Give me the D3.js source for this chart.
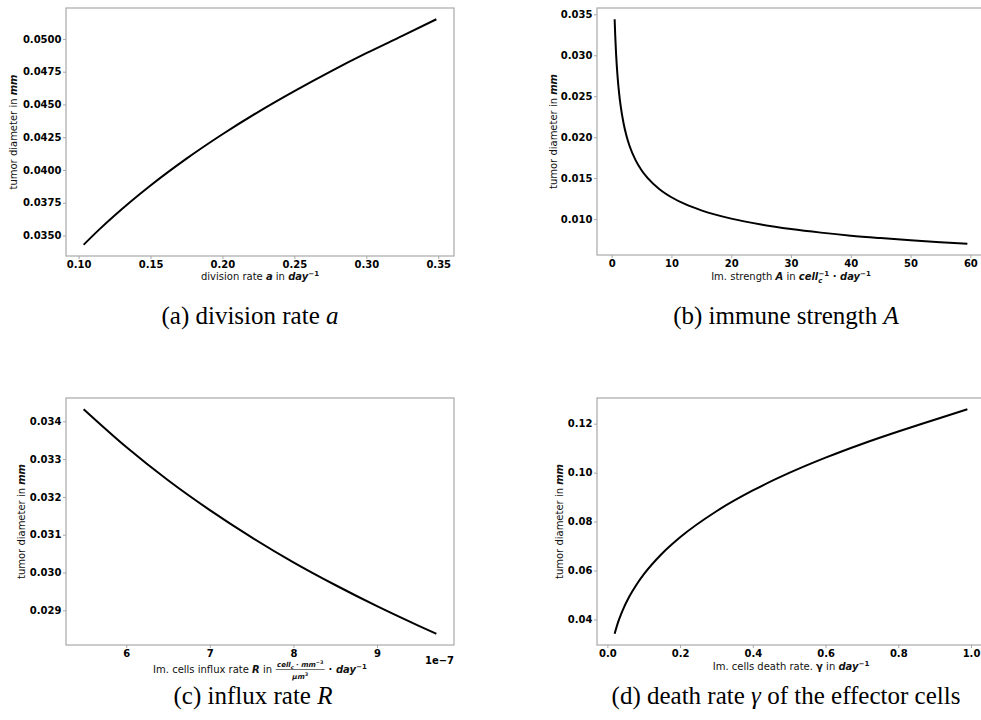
<!DOCTYPE html>
<html><head><meta charset="utf-8">
<script src="https://cdn.jsdelivr.net/npm/d3@7"></script>
<style>body{margin:0;background:#fff}svg{display:block}text{white-space:pre}</style>
</head><body>
<script>
// ---- data ----
const aX=[0.1035,0.115,0.125,0.15,0.175,0.2,0.225,0.25,0.275,0.3,0.325,0.3487];
const aY=[0.0343,0.03553,0.03653,0.03882,0.04087,0.04273,0.04444,0.04602,0.04751,0.04891,0.05023,0.0515];
const aXTicks=[0.10,0.15,0.20,0.25,0.30,0.35];
const aYTicks=[0.0350,0.0375,0.0400,0.0425,0.0450,0.0475,0.0500];

const bX=[0.5,0.6,0.75,1,1.25,1.5,2,2.5,3,4,5,6,8,10,12.5,15,20,25,30,35,40,45,50,55,59.5];
const bY=[0.0344,0.03237,0.03005,0.0273,0.02535,0.02385,0.02167,0.02012,0.01893,0.0172,0.01597,0.01503,0.01365,0.01267,0.01176,0.01107,0.01006,0.00934,0.00879,0.00835,0.00798,0.00768,0.00741,0.00718,0.00699];
const bXTicks=[0,10,20,30,40,50,60];
const bYTicks=[0.010,0.015,0.020,0.025,0.030,0.035];

const cX=[5.49e-7,6e-7,6.5e-7,7e-7,7.5e-7,8e-7,8.5e-7,9e-7,9.5e-7,9.71e-7];
const cY=[0.03432,0.03332,0.03244,0.03165,0.03093,0.03027,0.02967,0.02911,0.02859,0.02838];
const cXTicks=[6e-7,7e-7,8e-7,9e-7];
const cYTicks=[0.029,0.030,0.031,0.032,0.033,0.034];

const dX=[0.02,0.03,0.04,0.06,0.08,0.1,0.15,0.2,0.3,0.4,0.5,0.6,0.7,0.8,0.9,0.99];
const dY=[0.03415,0.03909,0.04303,0.04925,0.05421,0.0584,0.06685,0.07357,0.08422,0.0927,0.09986,0.10611,0.11171,0.1168,0.12160,0.1259];
const dXTicks=[0.0,0.2,0.4,0.6,0.8,1.0];
const dYTicks=[0.04,0.06,0.08,0.10,0.12];

const captions=[
  [{t:"(a) division rate "},{t:"a",i:1}],
  [{t:"(b) immune strength "},{t:"A",i:1}],
  [{t:"(c) influx rate "},{t:"R",i:1}],
  [{t:"(d) death rate "},{t:"γ",i:1},{t:" of the effector cells"}]
];

// ---- layout ----
const W=981,H=720;
const svg=d3.select("body").append("svg").attr("width",W).attr("height",H)
  .style("font-family","'DejaVu Sans'");
svg.append("rect").attr("width",W).attr("height",H).attr("fill","#fff");

const SPINE="#a8a8a8";
const TICKFONT="bold 10px 'DejaVu Sans'";

function pad(ext){const s=ext[1]-ext[0];return [ext[0]-0.05*s,ext[1]+0.05*s];}

function rich(sel,parts,fs){
  let off=0;
  parts.forEach(p=>{
    const ts=sel.append("tspan").text(p.t);
    if(p.b) ts.attr("font-weight","bold");
    if(p.i) ts.attr("font-style","italic");
    let target=0, size=fs;
    if(p.sup){target=-fs*0.42;size=fs*0.7;}
    if(p.sub){target=fs*0.25;size=fs*0.7;}
    ts.attr("font-size",size);
    if(target!==off){ts.attr("dy",target-off);off=target;}
    if(p.dx) ts.attr("dx",p.dx);
  });
}

function panel(cfg){
  const g=svg.append("g");
  const x=d3.scaleLinear().domain(pad(d3.extent(cfg.xs))).range([cfg.l,cfg.r]);
  const y=d3.scaleLinear().domain(pad(d3.extent(cfg.ys))).range([cfg.b,cfg.t]);
  const xa=g.append("g").attr("transform",`translate(0,${cfg.b})`)
    .call(d3.axisBottom(x).tickValues(cfg.xt).tickFormat(cfg.xf).tickSize(3).tickPadding(1.5));
  const ya=g.append("g").attr("transform",`translate(${cfg.l},0)`)
    .call(d3.axisLeft(y).tickValues(cfg.yt).tickFormat(cfg.yf).tickSize(3).tickPadding(1.5));
  [xa,ya].forEach(a=>{
    a.select(".domain").remove();
    a.selectAll(".tick line").attr("stroke",SPINE);
    a.selectAll(".tick text").style("font",TICKFONT).attr("fill","#000");
  });
  g.append("rect").attr("x",cfg.l).attr("y",cfg.t).attr("width",cfg.r-cfg.l).attr("height",cfg.b-cfg.t)
    .attr("fill","none").attr("stroke",SPINE).attr("stroke-width",1.2);
  const pts=cfg.xs.map((v,i)=>[v,cfg.ys[i]]);
  g.append("path").datum(pts).attr("fill","none").attr("stroke","#000").attr("stroke-width",2)
    .attr("d",d3.line().x(d=>x(d[0])).y(d=>y(d[1])).curve(d3.curveMonotoneX));
  const yl=g.append("text").attr("transform",`translate(${cfg.ylx},${(cfg.t+cfg.b)/2}) rotate(-90)`)
    .attr("text-anchor","middle").attr("dy","0.35em").attr("fill","#111");
  rich(yl,[{t:"tumor diameter in "},{t:"mm",b:1,i:1}],10);
  if(cfg.xlabel){
    const xl=g.append("text").attr("x",(cfg.l+Math.min(cfg.r,W+4))/2).attr("y",cfg.xly)
      .attr("text-anchor","middle").attr("fill","#111");
    rich(xl,cfg.xlabel,10);
  }
  return {g,x,y};
}

const fmt4=d3.format(".4f"),fmt2=d3.format(".2f"),fmt3=d3.format(".3f"),fmt1=d3.format(".1f");

panel({xs:aX,ys:aY,l:66,r:454,t:8,b:256,xt:aXTicks,yt:aYTicks,xf:fmt2,yf:fmt4,ylx:11.5,xly:280,
  xlabel:[{t:"division rate "},{t:"a",b:1,i:1},{t:" in "},{t:"day",b:1,i:1},{t:"−1",b:1,sup:1}]});
panel({xs:bX,ys:bY,l:597,r:985,t:8,b:255,xt:bXTicks,yt:bYTicks,xf:d3.format("d"),yf:fmt3,ylx:551.5,xly:280,
  xlabel:[{t:"Im. strength "},{t:"A",b:1,i:1},{t:" in "},{t:"cell",b:1,i:1},{t:"c",b:1,i:1,sub:1},{t:"−1",b:1,sup:1,dx:-4},{t:" · ",b:1},{t:"day",b:1,i:1},{t:"−1",b:1,sup:1}]});
const pc=panel({xs:cX,ys:cY,l:66,r:454,t:398,b:645,xt:cXTicks,yt:cYTicks,xf:d=>String(Math.round(d/1e-7)),yf:fmt3,ylx:19,xly:null});
panel({xs:dX,ys:dY,l:597,r:985,t:398,b:645,xt:dXTicks,yt:dYTicks,xf:fmt1,yf:fmt2,ylx:557.5,xly:670,
  xlabel:[{t:"Im. cells death rate. "},{t:"γ",b:1},{t:" in "},{t:"day",b:1,i:1},{t:"−1",b:1,sup:1}]});

// panel (c) x label with fraction
(function(){
  const g=pc.g, base=673;
  const t1=g.append("text").attr("y",base).attr("fill","#111");
  rich(t1,[{t:"Im. cells influx rate "},{t:"R",b:1,i:1},{t:" in "}],10);
  const w1=t1.node().getComputedTextLength();
  const num=g.append("text").attr("y",base-6).attr("text-anchor","middle").attr("fill","#111");
  rich(num,[{t:"cell",b:1,i:1},{t:"c",b:1,i:1,sub:1},{t:" · ",b:1},{t:"mm",b:1,i:1},{t:"−3",b:1,sup:1}],7);
  const den=g.append("text").attr("y",base+5.5).attr("text-anchor","middle").attr("fill","#111");
  rich(den,[{t:"μm",b:1,i:1},{t:"3",b:1,sup:1}],7);
  const wf=Math.max(num.node().getBBox().width,den.node().getBBox().width)+3;
  const t2=g.append("text").attr("y",base).attr("fill","#111");
  rich(t2,[{t:" · ",b:1},{t:"day",b:1,i:1},{t:"−1",b:1,sup:1}],10);
  const w2=t2.node().getBBox().width;
  const total=w1+wf+w2;
  const x0=260-total/2;
  t1.attr("x",x0);
  num.attr("x",x0+w1+wf/2); den.attr("x",x0+w1+wf/2);
  g.append("line").attr("x1",x0+w1+0.5).attr("x2",x0+w1+wf-0.5).attr("y1",base-3.5).attr("y2",base-3.5)
    .attr("stroke","#111").attr("stroke-width",0.6);
  t2.attr("x",x0+w1+wf);
  g.append("text").attr("x",454).attr("y",664).attr("text-anchor","end").style("font",TICKFONT).text("1e−7");
})();

// captions
const capPos=[[250,324],[786,324],[253,704],[786,704]];
captions.forEach((c,i)=>{
  const t=svg.append("text").attr("x",capPos[i][0]).attr("y",capPos[i][1]).attr("text-anchor","middle")
    .style("font-family","'Liberation Serif'").style("font-size","25px").attr("fill","#000");
  c.forEach(p=>{const ts=t.append("tspan").text(p.t); if(p.i) ts.attr("font-style","italic");});
});
</script>
</body></html>
